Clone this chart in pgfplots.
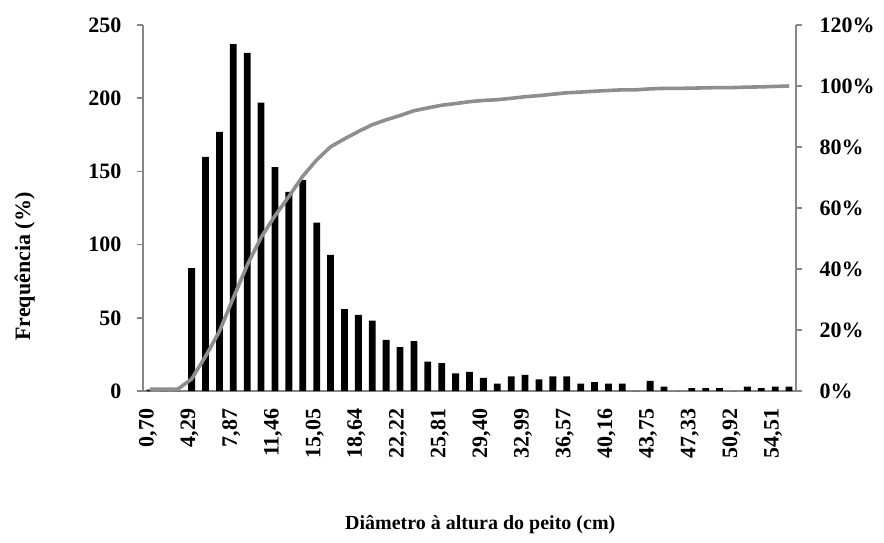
\documentclass[border=0pt]{standalone}
\usepackage{fontspec}
\setmainfont{Liberation Serif}
\usepackage{pgfplots}
\pgfplotsset{compat=1.18}
\usepackage{pgfplotstable}

\definecolor{axisgray}{RGB}{134,134,134}
\definecolor{linegray}{RGB}{142,142,142}

% Diameter classes (index), number of trees per class, cumulative share (%)
\pgfplotstableread{
idx freq cum
0   1    0.6
1   0    0.6
2   0    0.6
3   84   3.94
4   160  11.35
5   177  19.56
6   237  30.54
7   231  41.24
8   197  50.37
9   153  57.46
10  136  63.76
11  144  70.44
12  115  75.76
13  93   80.07
14  56   82.67
15  52   85.08
16  48   87.30
17  35   88.92
18  30   90.32
19  34   91.89
20  20   92.82
21  19   93.70
22  12   94.25
23  13   94.86
24  9    95.27
25  5    95.51
26  10   95.97
27  11   96.48
28  8    96.85
29  10   97.31
30  10   97.78
31  5    98.01
32  6    98.29
33  5    98.52
34  5    98.75
35  0    98.75
36  7    99.07
37  3    99.21
38  0    99.21
39  2    99.30
40  2    99.40
41  2    99.49
42  0    99.49
43  3    99.63
44  2    99.72
45  3    99.86
46  3    100.00
}\dapdata

\pgfplotsset{
  dapframe/.style={
    at={(143pt,-391pt)}, anchor=south west,
    scale only axis, width=653pt, height=366pt,
    xmin=-0.5, xmax=46.5,
    tick align=outside,
    axis line style={-, axisgray, line width=1.6pt},
    every tick/.style={axisgray, line width=1.6pt},
    major tick length=6pt,
    minor tick length=7pt,
    tick label style={font=\fontsize{22}{26}\selectfont\bfseries},
    /pgf/number format/assume math mode=true,
  }
}

\begin{document}
\begin{tikzpicture}
\useasboundingbox (0,0) rectangle (884pt,-542pt);

% Frequency histogram (left axis)
\begin{axis}[
  dapframe,
  separate axis lines,
  axis x line*=bottom, axis y line*=left,
  xtick pos=lower, ytick pos=left,
  ymin=0, ymax=250, ytick={0,50,...,250},
  yticklabel style={xshift=-12pt},
  % class labels every third class, tick marks at every class boundary
  xtick={0,3,...,45},
  xticklabels={{0,70},{4,29},{7,87},{11,46},{15,05},{18,64},{22,22},{25,81},{29,40},{32,99},{36,57},{40,16},{43,75},{47,33},{50,92},{54,51}},
  xtick style={draw=none},
  minor xtick={-0.5,0.5,...,46.5},
  minor x tick style={axisgray, line width=1.6pt},
  xticklabel style={rotate=90, anchor=east, xshift=-8pt, yshift=2pt},
  xlabel={Diâmetro à altura do peito (cm)},
  xlabel style={font=\fontsize{20}{24}\selectfont\bfseries,
    at={(axis description cs:0.5165,-0.366)}, anchor=center},
  ylabel={Frequência (\%)},
  ylabel style={font=\fontsize{22}{26}\selectfont\bfseries,
    at={(axis description cs:-0.181,0.34)}, anchor=center},
  ybar, bar width=6.8pt,
]
\addplot[fill=black, draw=none, bar shift=0pt] table[x=idx, y=freq]{\dapdata};
\end{axis}

% Cumulative share (right axis)
\begin{axis}[
  dapframe,
  axis x line=none, axis y line*=right, ytick pos=right,
  ymin=0, ymax=120, ytick={0,20,...,120},
  yticklabels={0\%,20\%,40\%,60\%,80\%,100\%,120\%},
  yticklabel style={xshift=14pt},
  xtick=\empty,
]
\addplot[linegray, line width=3.6pt, line join=round, mark=none] table[x=idx, y=cum]{\dapdata};
\end{axis}
\end{tikzpicture}
\end{document}
